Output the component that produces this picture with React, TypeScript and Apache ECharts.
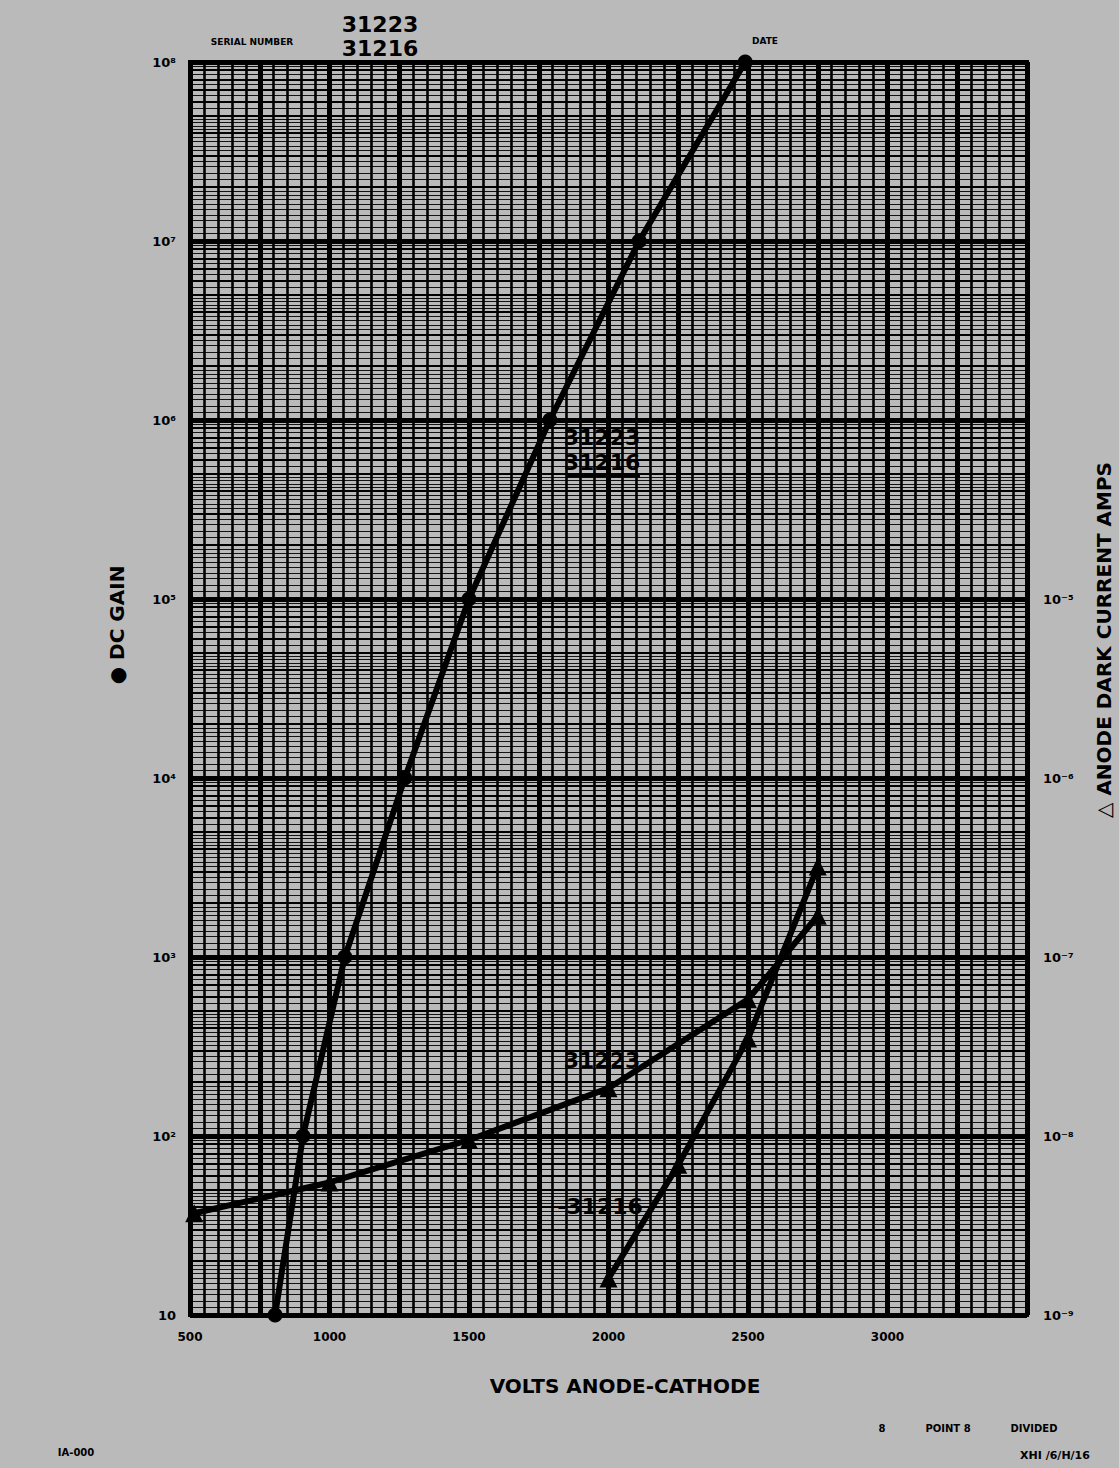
import React, { useEffect, useRef } from "react";
import * as echarts from "echarts";

// ---- data ----
const xTickLabels = ["500", "1000", "1500", "2000", "2500", "3000"];
const gainVolts = [805, 905, 1055, 1270, 1500, 1790, 2110, 2490];
const gainValues = [10, 1e2, 1e3, 1e4, 1e5, 1e6, 1e7, 1e8];
const dark31223Volts = [515, 1000, 1500, 2000, 2500, 2750];
const dark31223Amps = [3.7e-9, 5.5e-9, 9.5e-9, 1.85e-8, 5.8e-8, 1.7e-7];
const dark31216Volts = [2000, 2250, 2500, 2750];
const dark31216Amps = [1.6e-9, 6.9e-9, 3.5e-8, 3.2e-7];
const gainDecades = [1, 2, 3, 4, 5, 6, 7];
const fineMultipliers = [1.1, 1.2, 1.3, 1.4, 1.5, 1.6, 1.7, 1.8, 1.9, 2.2, 2.4, 2.6, 2.8, 3.2, 3.4, 3.6, 3.8, 4.2, 4.4, 4.6, 4.8, 5.5, 6.5, 7.5, 8.5, 9.5];
const mainMultipliers = [2, 3, 4, 5, 6, 7, 8, 9];

const SUP: Record<string, string> = { "0": "⁰", "1": "¹", "2": "²", "3": "³", "4": "⁴", "5": "⁵", "6": "⁶", "7": "⁷", "8": "⁸", "9": "⁹", "-": "⁻" };
const pow10Label = (v: number) => {
  const e = Math.round(Math.log10(v));
  if (e === 1) return "10";
  return "10" + String(e).split("").map((c) => SUP[c] || c).join("");
};

export default function App() {
  const ref = useRef<HTMLDivElement>(null);
  useEffect(() => {
    document.body.style.margin = "0";
    const chart = echarts.init(ref.current!, null, { renderer: "svg" });
    const font = "DejaVu Sans";
    const gridLines: any[] = [];
    gainDecades.forEach((d) => {
      const base = Math.pow(10, d);
      fineMultipliers.forEach((m) => gridLines.push({ yAxis: base * m, lineStyle: { width: 0.9, color: "#000", type: "solid" } }));
      mainMultipliers.forEach((m) => gridLines.push({ yAxis: base * m, lineStyle: { width: 2, color: "#000", type: "solid" } }));
    });
    const txt = (x: number, y: number, text: string, size: number, extra: any = {}) => ({
      type: "text",
      x,
      y,
      z: 100,
      ...extra,
      style: { text, fontSize: size, fontWeight: "bold", fontFamily: font, fill: "#000", align: "center", verticalAlign: "middle", ...(extra.style || {}) },
    });
    chart.setOption({
      animation: false,
      backgroundColor: "#bababa",
      grid: { left: 190, right: 92, top: 62, bottom: 153, show: true, borderColor: "#000", borderWidth: 4, containLabel: false },
      xAxis: {
        type: "value",
        min: 500,
        max: 3500,
        interval: 250,
        axisLine: { show: true, lineStyle: { color: "#000", width: 4 } },
        axisTick: { show: false },
        minorTick: { show: false, splitNumber: 5 },
        splitLine: { show: true, lineStyle: { color: "#000", width: 5 } },
        minorSplitLine: { show: true, lineStyle: { color: "#000", width: 2.6 } },
        axisLabel: {
          margin: 16,
          fontFamily: font,
          fontWeight: "bold",
          fontSize: 12,
          color: "#000",
          formatter: (v: number) => (v % 500 === 0 && v <= 3000 ? xTickLabels[(v - 500) / 500] : ""),
        },
      },
      yAxis: [
        {
          type: "log",
          logBase: 10,
          min: 10,
          max: 1e8,
          interval: 1,
          splitNumber: 7,
          axisLine: { show: true, lineStyle: { color: "#000", width: 4 } },
          axisTick: { show: false },
          splitLine: { show: true, lineStyle: { color: "#000", width: 5 } },
          axisLabel: { margin: 14, fontFamily: font, fontWeight: "bold", fontSize: 13, color: "#000", formatter: (v: number) => pow10Label(v) },
        },
        {
          type: "log",
          logBase: 10,
          min: 1e-9,
          max: 1e-2,
          interval: 1,
          splitNumber: 7,
          position: "right",
          axisLine: { show: true, lineStyle: { color: "#000", width: 4 } },
          axisTick: { show: false },
          splitLine: { show: false },
          axisLabel: {
            margin: 16,
            fontFamily: font,
            fontWeight: "bold",
            fontSize: 13,
            color: "#000",
            formatter: (v: number) => (Math.round(Math.log10(v)) <= -5 ? pow10Label(v) : ""),
          },
        },
      ],
      series: [
        {
          name: "grid",
          type: "line",
          data: [],
          xAxisIndex: 0,
          yAxisIndex: 0,
          z: 1,
          silent: true,
          markLine: { silent: true, symbol: ["none", "none"], label: { show: false }, animation: false, data: gridLines },
        },
        {
          name: "DC GAIN 31223/31216",
          type: "line",
          yAxisIndex: 0,
          z: 5,
          data: gainVolts.map((v, i) => [v, gainValues[i]]),
          symbol: "circle",
          symbolSize: 15,
          itemStyle: { color: "#000" },
          lineStyle: { color: "#000", width: 6 },
        },
        {
          name: "Dark current 31223",
          type: "line",
          yAxisIndex: 1,
          z: 5,
          data: dark31223Volts.map((v, i) => [v, dark31223Amps[i]]),
          symbol: "triangle",
          symbolSize: 18,
          itemStyle: { color: "#000" },
          lineStyle: { color: "#000", width: 6 },
        },
        {
          name: "Dark current 31216",
          type: "line",
          yAxisIndex: 1,
          z: 5,
          data: dark31216Volts.map((v, i) => [v, dark31216Amps[i]]),
          symbol: "triangle",
          symbolSize: 18,
          itemStyle: { color: "#000" },
          lineStyle: { color: "#000", width: 6 },
        },
      ],
      graphic: [
        txt(380, 24, "31223", 22),
        txt(380, 48, "31216", 22),
        txt(252, 42, "SERIAL NUMBER", 9),
        txt(765, 41, "DATE", 9),
        txt(602, 437, "31223", 22),
        txt(602, 462, "31216", 22),
        { type: "line", z: 100, shape: { x1: 566, y1: 476, x2: 640, y2: 476 }, style: { stroke: "#000", lineWidth: 3 } },
        txt(602, 1060, "31223", 22),
        txt(600, 1206, "-31216", 22),
        txt(117, 625, "● DC GAIN", 20, { rotation: Math.PI / 2 }),
        txt(1104, 640, "△ ANODE DARK CURRENT AMPS", 20, { rotation: Math.PI / 2 }),
        txt(625, 1386, "VOLTS ANODE-CATHODE", 20),
        txt(882, 1428, "8", 10),
        txt(948, 1428, "POINT 8", 10),
        txt(1034, 1428, "DIVIDED", 10),
        txt(1055, 1455, "XHI /6/H/16", 11),
        txt(76, 1452, "IA-000", 10),
      ],
    });
    return () => chart.dispose();
  }, []);
  return <div ref={ref} style={{ width: 1119, height: 1468 }} />;
}
